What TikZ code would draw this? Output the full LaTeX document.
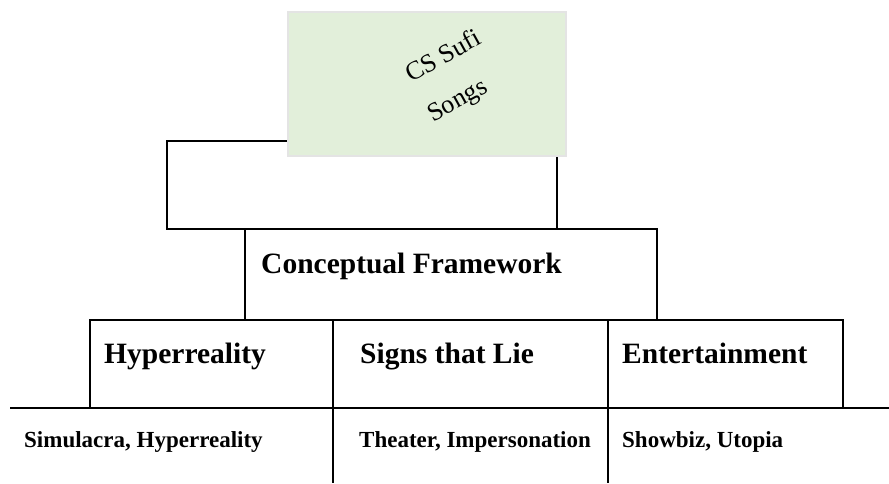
\documentclass[tikz,border=0pt]{standalone}
\usepackage{fontspec}
\setmainfont{Liberation Serif}

\definecolor{songgreen}{HTML}{E2EFDA}
\definecolor{songedge}{HTML}{E4E4E4}

\tikzset{
  frame/.style={draw=black, line width=1.5pt},
  head/.style={font=\fontsize{29.5}{34}\selectfont\bfseries, inner sep=0pt, anchor=base west},
  leaf/.style={font=\fontsize{23}{27}\selectfont\bfseries, inner sep=0pt, anchor=base west},
}

\begin{document}
\begin{tikzpicture}[x=1pt,y=-1pt]
\useasboundingbox (0,0) rectangle (889,483);

% Draw the frame behind the song box
\draw[frame] (167,141) rectangle (557,229);

% Draw the conceptual framework box
\draw[frame] (245,229) rectangle (657,320);

% Draw the three middle boxes
\foreach \a/\b in {90/333,333/608,608/843} {
    \draw[frame] (\a,320) rectangle (\b,408);
}

% Draw the bottom row, it runs off the page
\draw[frame] (10,408) -- (889,408);
\foreach \a in {333,608} {
    \draw[frame] (\a,408) -- (\a,483);
}

% Draw the song box on top of the frame
\node[draw=songedge, fill=songgreen, line width=1.5pt, minimum width=278pt, minimum height=144pt, inner sep=0pt] (song) at (427,84) {};
\node[rotate=29, align=left, inner sep=0pt, font=\fontsize{26}{45}\selectfont] (songtitle) at (455,77) {CS Sufi\\Songs};

% Labels
\node[head] (concept) at (261,273) {Conceptual Framework};
\node[head] (hyper) at (104,363) {Hyperreality};
\node[head] (signs) at (360,363) {Signs that Lie};
\node[head] (enter) at (622,363) {Entertainment};
\node[leaf] (simul) at (24,447) {Simulacra, Hyperreality};
\node[leaf] (theater) at (359,447) {Theater, Impersonation};
\node[leaf] (showbiz) at (622,447) {Showbiz, Utopia};

\end{tikzpicture}
\end{document}
